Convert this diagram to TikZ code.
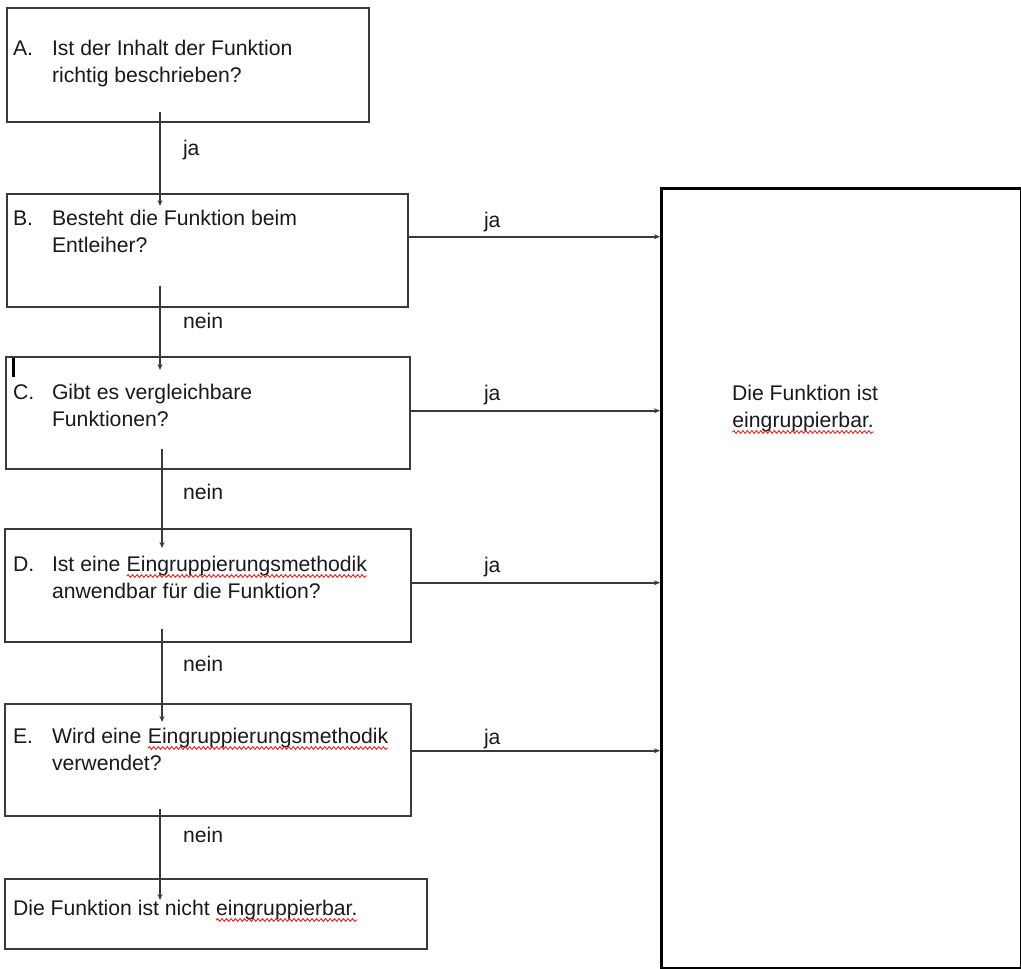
\documentclass[tikz,border=0pt]{standalone}
\usepackage{fontspec}
\setmainfont{Liberation Sans}
\usetikzlibrary{arrows.meta,decorations.pathmorphing,calc}
\definecolor{linec}{HTML}{3A3A3A}
\definecolor{textc}{HTML}{1A1A1A}
\definecolor{squig}{HTML}{E02828}
\newcommand\wavyword[1]{\tikz[baseline=(w.base)]{\node[inner sep=0pt,outer sep=0pt,anchor=base](w){#1};\draw[squig,line width=0.9pt,decorate,decoration={snake,amplitude=1.4pt,segment length=4.5pt}] ([yshift=-5pt]w.base west) -- ([yshift=-5pt]w.base east);}}
\tikzset{
  box/.style={draw=linec,line width=1.5pt,rectangle,anchor=north west,inner sep=0pt},
  bigbox/.style={draw=black,line width=3pt,rectangle,anchor=north west,inner sep=0pt},
  txt/.style={inner sep=0pt,outer sep=0pt,anchor=base west,text=textc,font=\fontsize{21.2}{27}\selectfont},
  arr/.style={draw=linec,line width=1.5pt,-{Stealth[length=6pt,width=5pt]}}
}
\begin{document}
\begin{tikzpicture}[x=1pt,y=-1pt]
\useasboundingbox[fill=white] (0,0) rectangle (1021,969);
% boxes
\node[box,minimum width=362,minimum height=114] (A) at (6,7) {};
\node[box,minimum width=401,minimum height=113] (B) at (6,193) {};
\node[box,minimum width=404,minimum height=112] (C) at (5,356) {};
\node[box,minimum width=406,minimum height=113] (D) at (4,528) {};
\node[box,minimum width=406,minimum height=112] (E) at (4,703) {};
\node[box,minimum width=422,minimum height=70] (F) at (4,878) {};
\node[bigbox,minimum width=360,minimum height=780] (R) at (660,187) {};
% texts
\node[txt] (Al) at (13,55) {A.};
\node[txt] (At1) at (52,55) {Ist der Inhalt der Funktion};
\node[txt] (At2) at (52,82) {richtig beschrieben?};
\node[txt] (Bl) at (13,225) {B.};
\node[txt] (Bt1) at (52,225) {Besteht die Funktion beim};
\node[txt] (Bt2) at (52,252) {Entleiher?};
\node[txt] (Cl) at (13,399) {C.};
\node[txt] (Ct1) at (52,399) {Gibt es vergleichbare};
\node[txt] (Ct2) at (52,426) {Funktionen?};
\node[txt] (Dl) at (13,571) {D.};
\node[txt] (Dt1) at (52,571) {Ist eine \wavyword{Eingruppierungsmethodik}};
\node[txt] (Dt2) at (52,598) {anwendbar für die Funktion?};
\node[txt] (El) at (13,743) {E.};
\node[txt] (Et1) at (52,743) {Wird eine \wavyword{Eingruppierungsmethodik}};
\node[txt] (Et2) at (52,770) {verwendet?};
\node[txt] (Ft) at (13,915) {Die Funktion ist nicht \wavyword{eingruppierbar.}};
\node[txt] (Rt1) at (732,400) {Die Funktion ist};
\node[txt] (Rt2) at (732,427) {\wavyword{eingruppierbar.}};
% cursor
\draw[black,line width=3pt] (13,358) -- (13,377);
% connector x positions
\coordinate (c1) at (160,0);
\coordinate (c2) at (162,0);
% vertical connectors
\draw[arr] ([yshift=11pt]A.south -| c1) -- ([yshift=-13pt]B.north -| c1);
\draw[arr] ([yshift=22pt]B.south -| c1) -- ([yshift=-14pt]C.north -| c1);
\draw[arr] ([yshift=21pt]C.south -| c2) -- ([yshift=-20pt]D.north -| c2);
\draw[arr] ([yshift=14pt]D.south -| c2) -- ([yshift=-19pt]E.north -| c2);
\draw[arr] ([yshift=8pt]E.south -| c1) -- ([yshift=-22pt]F.north -| c1);
% horizontal connectors
\draw[arr] ([yshift=13.5pt]B.east) -- ([yshift=13.5pt]B.east -| R.west);
\draw[arr] ([yshift=2pt]C.east) -- ([yshift=2pt]C.east -| R.west);
\draw[arr] ([yshift=2.5pt]D.east) -- ([yshift=2.5pt]D.east -| R.west);
\draw[arr] ([yshift=9pt]E.east) -- ([yshift=9pt]E.east -| R.west);
% labels
\node[txt] (l1) at (183,155) {ja};
\node[txt] (l2) at (183,328) {nein};
\node[txt] (l3) at (183,499) {nein};
\node[txt] (l4) at (183,671) {nein};
\node[txt] (l5) at (183,842) {nein};
\node[txt] (r1) at (484,227) {ja};
\node[txt] (r2) at (484,400) {ja};
\node[txt] (r3) at (484,572) {ja};
\node[txt] (r4) at (484,744) {ja};
\end{tikzpicture}
\end{document}
